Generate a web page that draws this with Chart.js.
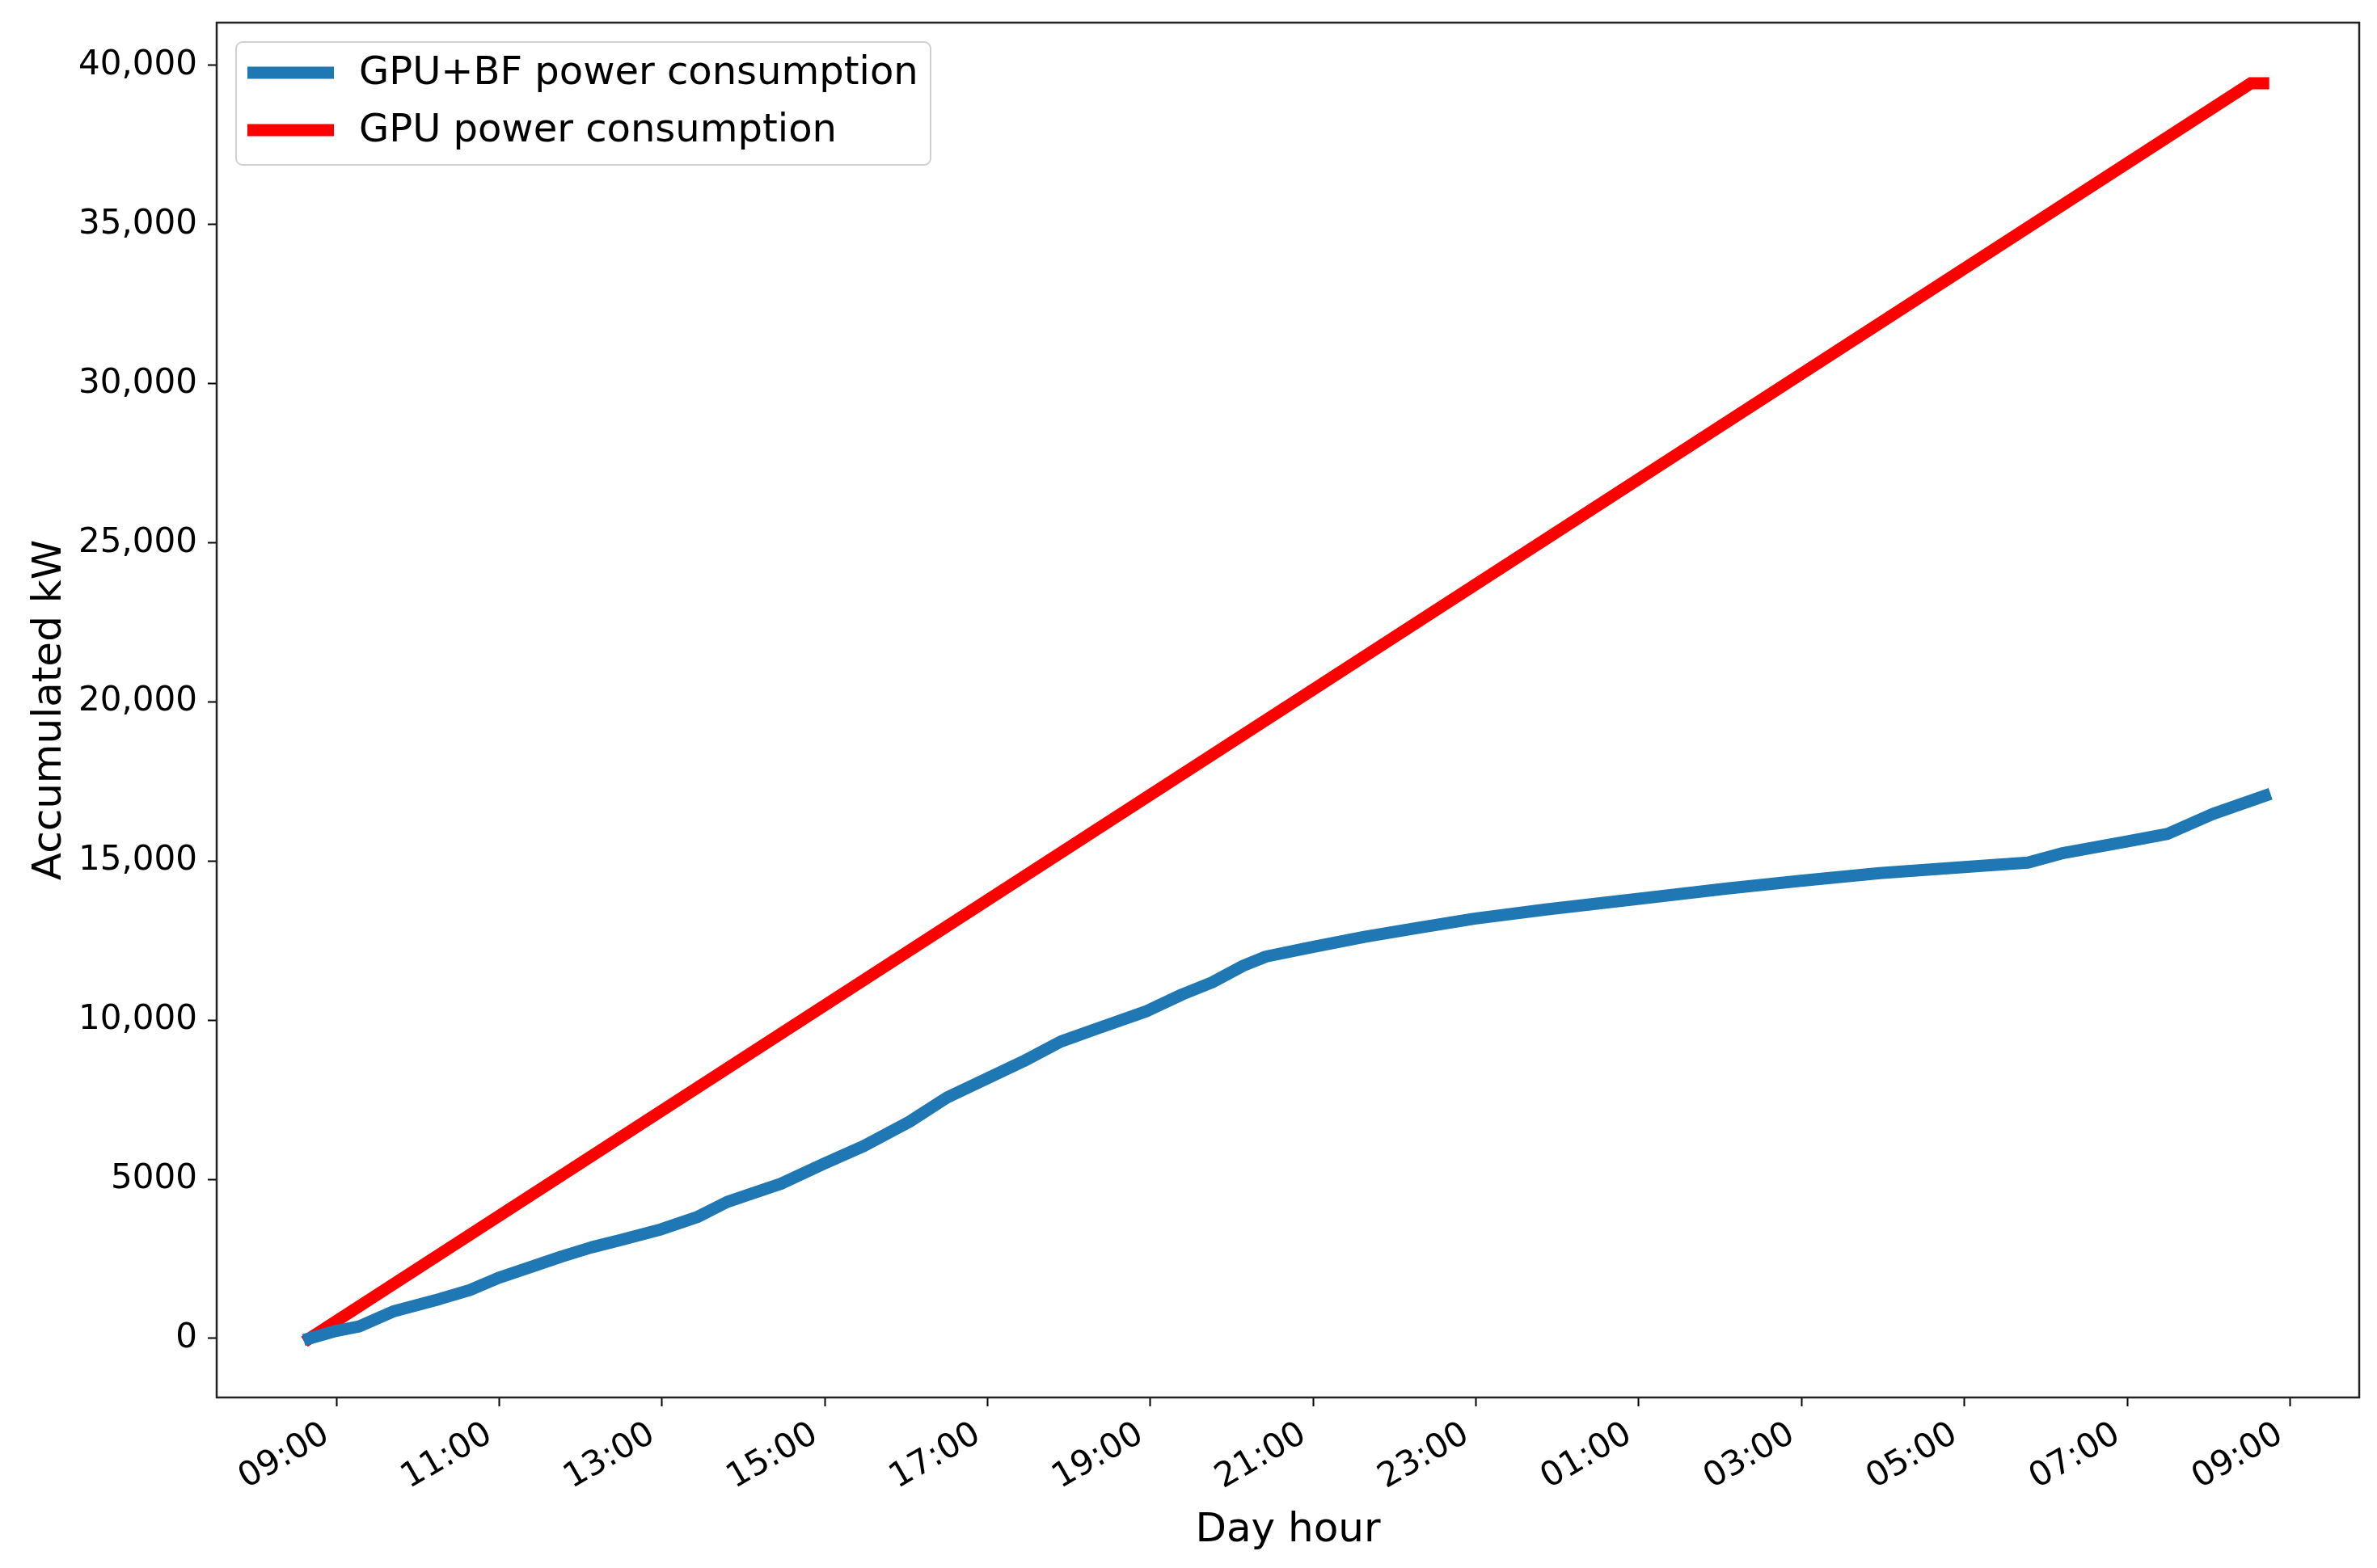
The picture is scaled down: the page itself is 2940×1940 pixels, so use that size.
<!DOCTYPE html>
<html lang="en">
<head>
    <meta charset="UTF-8">
    <title>Accumulated kW</title>
    <script src="https://cdn.jsdelivr.net/npm/chart.js@4.4.1/dist/chart.umd.min.js"></script>
    <style>
        html, body { margin: 0; padding: 0; background: #fff; }
        .graph { width: 2940px; height: 1940px; }
    </style>
</head>
<body>
    <div class="graph">
        <canvas id="canvas_grafico"></canvas>
    </div>

<script>
    // hours counted from 09:00 of the first day
    const xTickHours = [0, 2, 4, 6, 8, 10, 12, 14, 16, 18, 20, 22, 24];
    const xTickLabels = ['09:00', '11:00', '13:00', '15:00', '17:00', '19:00', '21:00',
        '23:00', '01:00', '03:00', '05:00', '07:00', '09:00'];

    const yTicks = [0, 5000, 10000, 15000, 20000, 25000, 30000, 35000, 40000];
    const yTickLabels = ['0', '5000', '10,000', '15,000', '20,000', '25,000', '30,000', '35,000', '40,000'];

    // GPU+BF power consumption (accumulated kW)
    const bfHours = [-0.33, 0, 0.28, 0.71, 1.27, 1.64, 1.99, 2.38, 2.76, 3.13, 3.50, 3.99, 4.43,
        4.80, 5.18, 5.46, 5.98, 6.48, 7.04, 7.50, 7.97, 8.44, 8.90, 9.37, 9.96, 10.39, 10.76,
        11.14, 11.42, 11.97, 12.63, 13.28, 13.98, 14.86, 15.98, 17.09, 17.99, 18.96, 20.00,
        20.78, 21.19, 22.01, 22.50, 23.05, 23.69];
    const bfKw = [0, 240, 380, 860, 1240, 1520, 1900, 2240, 2570, 2860, 3100, 3430, 3810,
        4290, 4620, 4860, 5480, 6050, 6810, 7570, 8140, 8710, 9330, 9760, 10290, 10810, 11190,
        11710, 12000, 12290, 12620, 12900, 13190, 13480, 13810, 14140, 14380, 14620, 14810,
        14950, 15240, 15620, 15860, 16480, 17050];

    // GPU power consumption (straight line with a short flat end)
    const gpuHours = [-0.33, 23.52, 23.67];
    const gpuKw = [0, 39440, 39440];

    function pares(xs, ys) {
        return xs.map(function (x, i) { return { x: x, y: ys[i] }; });
    }

    Chart.defaults.font.family = "'DejaVu Sans', sans-serif";
    Chart.defaults.color = '#000';

    // legenda com caixa, no canto de cima a esquerda
    const legendaCaixa = {
        id: 'legendaCaixa',
        afterDatasetsDraw(chart) {
            const ctx = chart.ctx;
            const area = chart.chartArea;
            const x = area.left + 24, y = area.top + 24, w = 859, h = 152;
            ctx.save();
            ctx.beginPath();
            ctx.roundRect(x, y, w, h, 8);
            ctx.fillStyle = 'rgba(255,255,255,0.8)';
            ctx.fill();
            ctx.lineWidth = 2;
            ctx.strokeStyle = '#d0d0d0';
            ctx.stroke();

            ctx.font = "48px 'DejaVu Sans'";
            ctx.textBaseline = 'middle';
            ctx.fillStyle = '#000';
            chart.data.datasets.forEach(function (ds, i) {
                const cy = y + 38 + i * 71;
                ctx.beginPath();
                ctx.moveTo(x + 14, cy);
                ctx.lineTo(x + 121, cy);
                ctx.lineWidth = 15;
                ctx.strokeStyle = ds.borderColor;
                ctx.stroke();
                ctx.fillText(ds.label, x + 152, cy + 2);
            });
            ctx.restore();
        },
        afterDraw(chart) {
            const ctx = chart.ctx;
            const a = chart.chartArea;
            ctx.save();
            ctx.lineWidth = 2.5;
            ctx.strokeStyle = '#222';
            ctx.strokeRect(a.left, a.top, a.right - a.left, a.bottom - a.top);
            ctx.restore();
        }
    };

    const config = {
        type: 'line',
        data: {
            datasets: [
                {
                    label: 'GPU+BF power consumption',
                    data: pares(bfHours, bfKw),
                    borderColor: '#1f77b4',
                    borderWidth: 15,
                    borderCapStyle: 'square',
                    borderJoinStyle: 'round',
                    pointRadius: 0,
                    tension: 0
                },
                {
                    label: 'GPU power consumption',
                    data: pares(gpuHours, gpuKw),
                    borderColor: '#ff0000',
                    borderWidth: 15,
                    borderCapStyle: 'square',
                    borderJoinStyle: 'miter',
                    pointRadius: 0,
                    tension: 0
                }
            ]
        },
        options: {
            responsive: true,
            maintainAspectRatio: false,
            animation: false,
            layout: { padding: { top: 28, right: 22, left: 0, bottom: 0 } },
            plugins: {
                legend: { display: false },
                tooltip: { enabled: false }
            },
            scales: {
                x: {
                    type: 'linear',
                    min: -1.47,
                    max: 24.85,
                    afterBuildTicks: function (scale) {
                        scale.ticks = xTickHours.map(function (v) { return { value: v }; });
                    },
                    afterFit: function (scale) {
                        scale.height = 211;
                        scale.paddingLeft = 0;
                        scale.paddingRight = 0;
                    },
                    grid: {
                        display: true,
                        drawOnChartArea: false,
                        tickLength: 11,
                        tickWidth: 2,
                        tickColor: '#000'
                    },
                    border: { display: false },
                    ticks: {
                        autoSkip: false,
                        minRotation: 30,
                        maxRotation: 30,
                        padding: 10,
                        labelOffset: -12,
                        font: { size: 42 },
                        callback: function (value, index) { return xTickLabels[index]; }
                    },
                    title: {
                        display: true,
                        text: 'Day hour',
                        font: { size: 50 },
                        padding: { top: 0, bottom: 16 }
                    }
                },
                y: {
                    type: 'linear',
                    min: -1854,
                    max: 41346,
                    afterBuildTicks: function (scale) {
                        scale.ticks = yTicks.map(function (v) { return { value: v }; });
                    },
                    afterFit: function (scale) {
                        scale.width = 268;
                        scale.paddingTop = 0;
                        scale.paddingBottom = 0;
                    },
                    grid: {
                        display: true,
                        drawOnChartArea: false,
                        tickLength: 11,
                        tickWidth: 2,
                        tickColor: '#000'
                    },
                    border: { display: false },
                    ticks: {
                        padding: 13,
                        font: { size: 42 },
                        callback: function (value, index) { return yTickLabels[index]; }
                    },
                    title: {
                        display: true,
                        text: 'Accumulated kW',
                        font: { size: 50 },
                        padding: { top: 32, bottom: 0 }
                    }
                }
            }
        },
        plugins: [legendaCaixa]
    };

    var grafico = new Chart(document.getElementById('canvas_grafico'), config);
</script>
</body>
</html>
